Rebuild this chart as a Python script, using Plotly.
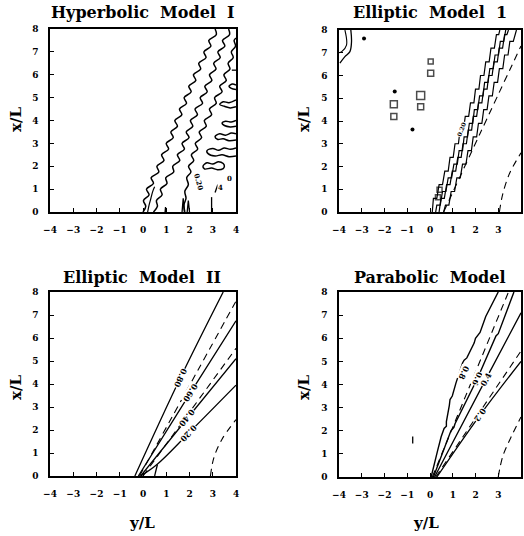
import plotly.graph_objects as go

FONT = "DejaVu Serif"
TITLES = ["Hyperbolic  Model  I", "Elliptic  Model  1", "Elliptic  Model  II", "Parabolic  Model"]
X_TICKS = [-4, -3, -2, -1, 0, 1, 2, 3, 4]
Y_TICKS = [0, 1, 2, 3, 4, 5, 6, 7, 8]
X_RANGE = [-4, 4]
Y_RANGE = [0, 8]

# ---------------- Panel 1: Hyperbolic Model I (wavy contours) ----------------
HYP_A = [(0.00, 0.0), (0.12, 0.25), (0.02, 0.5), (0.26, 0.75), (0.15, 1.0), (0.45, 1.25), (0.35, 1.5),
         (0.68, 1.75), (0.60, 2.0), (0.90, 2.25), (0.80, 2.5), (1.10, 2.75), (1.00, 3.0), (1.30, 3.25),
         (1.20, 3.5), (1.48, 3.75), (1.37, 4.0), (1.67, 4.25), (1.57, 4.5), (1.87, 4.75), (1.77, 5.0),
         (2.07, 5.25), (1.97, 5.5), (2.27, 5.75), (2.17, 6.0), (2.48, 6.25), (2.40, 6.5), (2.71, 6.75),
         (2.62, 7.0), (2.92, 7.25), (2.83, 7.5), (3.15, 7.75), (3.10, 8.0)]
HYP_A2 = [(0.20, 0.0), (0.26, 0.3), (0.34, 0.6), (0.42, 0.9), (0.50, 1.1)]
HYP_B = [(0.45, 0.0), (0.62, 0.25), (0.58, 0.5), (0.82, 0.75), (0.75, 1.0), (1.03, 1.25), (0.98, 1.5),
         (1.32, 1.75), (1.28, 2.0), (1.58, 2.25), (1.48, 2.5), (1.78, 2.75), (1.68, 3.0), (1.98, 3.25),
         (1.86, 3.5), (2.14, 3.75), (2.04, 4.0), (2.34, 4.25), (2.24, 4.5), (2.56, 4.75), (2.46, 5.0),
         (2.76, 5.25), (2.66, 5.5), (2.96, 5.75), (2.86, 6.0), (3.14, 6.25), (3.04, 6.5), (3.32, 6.75),
         (3.22, 7.0), (3.52, 7.25), (3.42, 7.5), (3.72, 7.75), (3.68, 8.0)]
HYP_C = [(1.80, 0.0), (1.76, 0.3), (1.85, 0.6), (1.80, 0.9), (1.95, 1.2), (1.88, 1.5), (2.06, 1.75),
         (1.96, 2.0), (2.18, 2.25), (2.08, 2.5), (2.35, 2.75), (2.25, 3.0), (2.52, 3.25), (2.42, 3.5),
         (2.72, 3.75), (2.64, 4.0), (2.95, 4.25), (2.86, 4.5), (3.15, 4.75), (3.08, 5.0), (3.40, 5.25),
         (3.30, 5.5), (3.58, 5.75), (3.48, 6.0), (3.74, 6.25), (3.66, 6.5), (3.88, 6.75), (3.80, 7.0),
         (3.98, 7.25), (3.92, 7.5), (4.00, 7.6)]
HYP_T1 = [(4.0, 3.75), (3.75, 3.72), (3.5, 3.78), (3.4, 3.88), (3.55, 3.97), (3.8, 3.93), (4.0, 4.0)]
HYP_T2 = [(4.0, 3.15), (3.7, 3.12), (3.45, 3.2), (3.2, 3.18), (3.1, 3.3), (3.3, 3.42), (3.55, 3.36),
          (3.8, 3.45), (4.0, 3.42)]
HYP_T3 = [(4.0, 2.45), (3.7, 2.42), (3.4, 2.5), (3.1, 2.45), (2.8, 2.55), (2.75, 2.68), (3.0, 2.78),
          (3.25, 2.7), (3.5, 2.8), (3.75, 2.74), (4.0, 2.8)]
HYP_T4 = [(3.45, 1.9), (3.2, 1.85), (2.95, 1.92), (2.65, 1.88), (2.58, 2.0), (2.75, 2.15), (3.0, 2.1),
          (3.25, 2.2), (3.45, 2.12), (3.5, 2.0), (3.45, 1.9)]
HYP_T5 = [(4.0, 4.6), (3.75, 4.55), (3.5, 4.62), (3.3, 4.7), (3.45, 4.82), (3.7, 4.78), (4.0, 4.9)]
HYP_T6 = [(4.0, 5.35), (3.8, 5.4), (3.7, 5.5), (3.85, 5.6), (4.0, 5.55)]
HYP_SPIKE1 = [(1.68, 0.0), (1.73, 0.6), (1.78, 0.0)]
HYP_SPIKE2 = [(1.90, 0.0), (1.95, 0.5), (2.00, 0.0)]
HYP_SPIKE3 = [(2.95, 0.0), (2.95, 0.65)]
HYP_SPIKE4 = [(0.95, 0.0), (0.97, 0.22), (1.00, 0.0)]
HYP_MARK1 = [(3.82, 6.2), (4.0, 6.2)]
HYP_MARK2 = [(3.1, 0.85), (3.22, 1.2)]
HYP_LABELS = [("0.20", 2.38, 1.32, 75), ("4", 3.33, 1.05, 0), ("0", 3.74, 1.47, 0)]

# ---------------- Panel 2: Elliptic Model 1 (stepped contours) ----------------
ELL1_S1 = [(0.10, 0.0), (0.15, 0.6), (0.30, 0.6), (0.40, 1.2), (0.55, 1.2), (0.65, 1.8), (0.80, 1.8),
           (0.88, 2.4), (1.02, 2.4), (1.10, 3.0), (1.25, 3.0), (1.32, 3.6), (1.47, 3.6), (1.55, 4.2),
           (1.70, 4.2), (1.78, 4.8), (1.93, 4.8), (2.00, 5.4), (2.15, 5.4), (2.22, 6.0), (2.37, 6.0),
           (2.45, 6.6), (2.60, 6.6), (2.68, 7.2), (2.83, 7.2), (2.92, 7.8), (3.02, 7.8), (3.07, 8.0)]
ELL1_S2 = [(0.25, 0.0), (0.30, 0.3), (0.45, 0.3), (0.55, 0.9), (0.70, 0.9), (0.80, 1.5), (0.95, 1.5),
           (1.05, 2.1), (1.20, 2.1), (1.28, 2.7), (1.43, 2.7), (1.50, 3.3), (1.65, 3.3), (1.73, 3.9),
           (1.88, 3.9), (1.95, 4.5), (2.10, 4.5), (2.18, 5.1), (2.33, 5.1), (2.40, 5.7), (2.55, 5.7),
           (2.63, 6.3), (2.78, 6.3), (2.86, 6.9), (3.01, 6.9), (3.09, 7.5), (3.24, 7.5), (3.33, 8.0)]
ELL1_S3 = [(0.40, 0.0), (0.48, 0.6), (0.63, 0.6), (0.73, 1.2), (0.88, 1.2), (0.98, 1.8), (1.13, 1.8),
           (1.22, 2.4), (1.37, 2.4), (1.45, 3.0), (1.60, 3.0), (1.68, 3.6), (1.83, 3.6), (1.90, 4.2),
           (2.05, 4.2), (2.13, 4.8), (2.28, 4.8), (2.36, 5.4), (2.51, 5.4), (2.58, 6.0), (2.73, 6.0),
           (2.81, 6.6), (2.96, 6.6), (3.04, 7.2), (3.19, 7.2), (3.28, 7.8), (3.38, 7.8), (3.45, 8.0)]
ELL1_S4 = [(0.60, 0.0), (0.68, 0.3), (0.83, 0.3), (0.93, 0.9), (1.08, 0.9), (1.18, 1.5), (1.33, 1.5),
           (1.43, 2.1), (1.58, 2.1), (1.67, 2.7), (1.82, 2.7), (1.90, 3.3), (2.05, 3.3), (2.13, 3.9),
           (2.28, 3.9), (2.36, 4.5), (2.51, 4.5), (2.59, 5.1), (2.74, 5.1), (2.82, 5.7), (2.97, 5.7),
           (3.05, 6.3), (3.20, 6.3), (3.28, 6.9), (3.43, 6.9), (3.51, 7.5), (3.66, 7.5), (3.80, 8.0)]
ELL1_DASH1 = [(0.60, 0.0), (2.2, 3.45), (4.0, 7.3)]
ELL1_DASH2 = [(3.05, 0.0), (3.2, 0.8), (3.5, 1.7), (4.0, 2.6)]
ELL1_TL_OUT = [(-3.96, 6.54), (-3.74, 6.83), (-3.52, 7.05), (-3.45, 7.49), (-3.48, 8.0)]
ELL1_TL_IN = [(-3.74, 8.0), (-3.67, 7.34), (-3.88, 7.05), (-4.0, 7.0)]
ELL1_SQ_X = [0.03, 0.03, -0.41, -0.41, -1.59, -1.59, 0.35, 0.42]
ELL1_SQ_Y = [6.62, 6.10, 5.12, 4.63, 4.74, 4.20, 0.65, 0.98]
ELL1_SQ_SIZE = [5, 6, 8, 6, 7, 6, 5, 5]
ELL1_DOT_X = [-2.9, -1.55, -0.77]
ELL1_DOT_Y = [7.63, 5.30, 3.63]
ELL1_LABELS = [("0.20", 1.40, 3.65, -70)]

# ---------------- Panel 3: Elliptic Model II ----------------
ELL2_080 = [(-0.35, 0.0), (1.6, 4.25), (3.45, 8.0)]
ELL2_DA = [(-0.15, 0.0), (3.76, 7.16), (4.0, 7.6)]
ELL2_060 = [(-0.2, 0.0), (2.03, 3.6), (4.0, 6.75)]
ELL2_DB = [(0.0, 0.0), (4.0, 5.55)]
ELL2_040 = [(-0.1, 0.0), (1.9, 2.5), (4.0, 5.1)]
ELL2_020 = [(-0.1, 0.0), (0.6, 0.5), (1.96, 1.86), (4.0, 3.95)]
ELL2_020B = [(0.5, 0.0), (0.62, 0.5)]
ELL2_DC = [(2.9, 0.0), (3.05, 0.8), (3.4, 1.6), (4.0, 2.45)]
ELL2_LABELS = [("0.80", 1.6, 4.25, 115), ("0.60", 2.03, 3.6, 122), ("0.40", 1.9, 2.5, 129),
               ("0.20", 1.96, 1.86, 132)]

# ---------------- Panel 4: Parabolic Model ----------------
PAR_08 = [(0.05, 0.0), (0.12, 0.3), (0.34, 1.16), (0.49, 1.74), (0.62, 2.1), (0.72, 2.2), (0.72, 2.4),
          (0.85, 3.1), (0.88, 3.35), (0.98, 3.5), (1.14, 4.06), (1.43, 4.93), (1.50, 5.05), (1.62, 5.15),
          (1.72, 5.35), (1.94, 5.79), (2.0, 6.0), (2.2, 6.25), (2.45, 6.94), (2.96, 7.94), (3.0, 8.0)]
PAR_DA = [(0.1, 0.0), (3.45, 8.0)]
PAR_06 = [(0.15, 0.0), (0.85, 1.8), (0.92, 2.0), (1.05, 2.15), (1.1, 2.3), (2.09, 4.27), (2.9, 6.1),
          (3.0, 6.2), (3.69, 8.0)]
PAR_04 = [(0.2, 0.0), (2.44, 4.2), (4.0, 7.1)]
PAR_DB = [(0.25, 0.0), (4.0, 5.45)]
PAR_02 = [(0.3, 0.0), (2.2, 2.68), (4.0, 5.0)]
PAR_DC = [(3.0, 0.0), (3.2, 0.9), (3.55, 1.7), (4.0, 2.6)]
PAR_MARK = [(-0.76, 1.45), (-0.76, 1.75)]
PAR_LABELS = [("0.8", 1.5, 4.5, 115), ("0.6", 2.09, 4.27, 115), ("0.4", 2.44, 4.2, -62),
              ("0.2", 2.2, 2.68, 125)]

# ---------------- layout geometry (page pixels) ----------------
W, H = 524, 536
PANELS = [  # (left, right, top, bottom)
    (50, 236, 29, 212),
    (339, 521, 30, 212),
    (50, 236, 292, 476),
    (339, 521, 292, 477),
]


def fx(px):
    return px / W


def fy(py):
    return 1 - py / H


fig = go.Figure()


def ax_names(i):
    s = "" if i == 0 else str(i + 1)
    return "x" + s, "y" + s


def add_line(i, pts, dash="solid", width=1.3, shape="linear"):
    xa, ya = ax_names(i)
    fig.add_trace(go.Scatter(x=[p[0] for p in pts], y=[p[1] for p in pts], mode="lines",
                             xaxis=xa, yaxis=ya, showlegend=False, hoverinfo="skip",
                             line=dict(color="black", width=width, dash=dash, shape=shape,
                                       smoothing=1.0 if shape == "spline" else None)))


def add_labels(i, labels, size=8):
    xa, ya = ax_names(i)
    for txt, x, y, ang in labels:
        fig.add_annotation(x=x, y=y, xref=xa, yref=ya, text=txt, showarrow=False, textangle=ang,
                           bgcolor="white", borderpad=0,
                           font=dict(family=FONT, size=size, color="black", weight="bold"))


DASH = "7px,5px"

# Panel 1
for pts in [HYP_A, HYP_B, HYP_C, HYP_T1, HYP_T2, HYP_T3, HYP_T4, HYP_T5, HYP_T6]:
    add_line(0, pts, width=1.5, shape="spline")
add_line(0, HYP_A2, width=1.2, shape="spline")
for pts in [HYP_SPIKE1, HYP_SPIKE2, HYP_SPIKE3, HYP_SPIKE4, HYP_MARK1, HYP_MARK2]:
    add_line(0, pts, width=1.3)
add_labels(0, HYP_LABELS, size=7)

# Panel 2
for pts in [ELL1_S1, ELL1_S2, ELL1_S3, ELL1_S4]:
    add_line(1, pts, width=1.2)
add_line(1, ELL1_TL_OUT, width=1.3, shape="spline")
add_line(1, ELL1_TL_IN, width=1.1, shape="spline")
add_line(1, ELL1_DASH1, dash=DASH, width=1.1, shape="spline")
add_line(1, ELL1_DASH2, dash=DASH, width=1.1, shape="spline")
fig.add_trace(go.Scatter(x=ELL1_SQ_X, y=ELL1_SQ_Y, mode="markers", xaxis="x2", yaxis="y2",
                         showlegend=False, hoverinfo="skip",
                         marker=dict(symbol="square-open", size=ELL1_SQ_SIZE, color="black",
                                     line=dict(width=1.5, color="black"))))
fig.add_trace(go.Scatter(x=ELL1_DOT_X, y=ELL1_DOT_Y, mode="markers", xaxis="x2", yaxis="y2",
                         showlegend=False, hoverinfo="skip",
                         marker=dict(symbol="circle", size=4, color="black")))
add_labels(1, ELL1_LABELS, size=6)

# Panel 3
for pts in [ELL2_080, ELL2_060, ELL2_040, ELL2_020, ELL2_020B]:
    add_line(2, pts, width=1.3, shape="spline")
for pts in [ELL2_DA, ELL2_DB, ELL2_DC]:
    add_line(2, pts, dash=DASH, width=1.1, shape="spline")
add_labels(2, ELL2_LABELS, size=8)

# Panel 4
for pts in [PAR_08, PAR_06]:
    add_line(3, pts, width=1.4)
for pts in [PAR_04, PAR_02]:
    add_line(3, pts, width=1.3, shape="spline")
for pts in [PAR_DA, PAR_DB, PAR_DC]:
    add_line(3, pts, dash=DASH, width=1.1, shape="spline")
add_line(3, PAR_MARK, width=1.3)
add_labels(3, PAR_LABELS, size=8)

# Axes
tick_font = dict(family=FONT, size=9, color="black", weight="bold")
layout_axes = {}
for i, (x0, x1, yt, yb) in enumerate(PANELS):
    s = "" if i == 0 else str(i + 1)
    xa, ya = ax_names(i)
    common = dict(showgrid=False, zeroline=False, showline=True, mirror=True, linecolor="black",
                  linewidth=1.6, ticks="inside", ticklen=4, tickwidth=1.2, tickcolor="black",
                  tickfont=tick_font, ticklabelstandoff=8, fixedrange=True, automargin=False)
    layout_axes["xaxis" + s] = dict(common, domain=[fx(x0), fx(x1)], range=X_RANGE,
                                    tickvals=X_TICKS, anchor=ya)
    layout_axes["yaxis" + s] = dict(common, domain=[fy(yb), fy(yt)], range=Y_RANGE,
                                    tickvals=Y_TICKS, anchor=xa)
fig.update_layout(**layout_axes)

# Titles and axis titles
title_font = dict(family=FONT, size=16, color="black", weight="bold")
axis_font = dict(family=FONT, size=15, color="black", weight="bold")
TITLE_POS = [(143, 13), (430, 13), (142, 277), (430, 277)]
YLAB_POS = [(16, 120), (304, 120), (16, 388), (304, 388)]
XLAB_POS = [(142, 523), (426, 523)]
for t, (px, py) in zip(TITLES, TITLE_POS):
    fig.add_annotation(x=fx(px), y=fy(py), xref="paper", yref="paper", text=t, showarrow=False,
                       xanchor="center", yanchor="middle", font=title_font)
for (px, py) in YLAB_POS:
    fig.add_annotation(x=fx(px), y=fy(py), xref="paper", yref="paper", text="x/L", showarrow=False,
                       xanchor="center", yanchor="middle", textangle=-90, font=axis_font)
for (px, py) in XLAB_POS:
    fig.add_annotation(x=fx(px), y=fy(py), xref="paper", yref="paper", text="y/L", showarrow=False,
                       xanchor="center", yanchor="middle", font=axis_font)

fig.update_layout(width=W, height=H, margin=dict(l=0, r=0, t=0, b=0), plot_bgcolor="white",
                  paper_bgcolor="white", showlegend=False)

# remove the default page margin so the 524x536 figure fills the window exactly
fig.write_html("out.html", config={"displayModeBar": False},
               post_script="document.body.style.margin='0px';")
